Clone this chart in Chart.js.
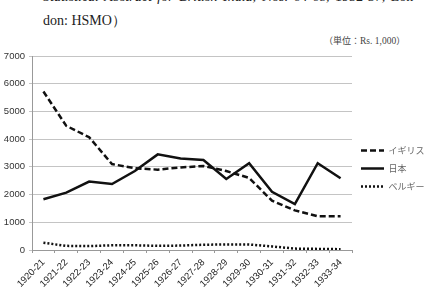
<!DOCTYPE html>
<html>
<head>
<meta charset="utf-8">
<script src="https://cdn.jsdelivr.net/npm/chart.js@4.4.0/dist/chart.umd.min.js"></script>
<style>
  html, body { margin: 0; padding: 0; background: #fff; }
  body { width: 434px; height: 295px; position: relative; overflow: hidden; }
  .src {
    position: absolute; left: 43px; top: -15px; width: 375px;
    font-family: "Liberation Serif", "DejaVu Serif", serif; font-size: 14px;
    line-height: 24px; color: #222; text-align: justify; margin: 0;
  }
  .unit {
    position: absolute; left: 324px; top: 34px;
    font-family: "Noto Sans CJK JP", sans-serif; font-size: 9px; color: #444;
  }
  .unit span { font-family: "Liberation Serif", serif; font-size: 9.5px; }
  #wrap { position: absolute; left: 0; top: 46px; width: 434px; height: 249px; }
</style>
</head>
<body>
<p class="src"><i>Statistical Abstract for British India</i>, Nos. 64-68, 1932-37, Lon-don: HSMO）</p>
<div class="unit">（単位：<span>Rs. 1,000</span>）</div>
<div id="wrap"><canvas id="chart"></canvas></div>
<script>
const years = ['1920-21', '1921-22', '1922-23', '1923-24', '1924-25', '1925-26', '1926-27',
  '1927-28', '1928-29', '1929-30', '1930-31', '1931-32', '1932-33', '1933-34'];
const britain = [5720, 4480, 4070, 3100, 2950, 2900, 2980, 3030, 2850, 2600, 1780, 1430, 1220, 1220];
const japan = [1830, 2070, 2470, 2380, 2850, 3450, 3300, 3250, 2560, 3130, 2100, 1660, 3130, 2590];
const belgium = [260, 150, 140, 170, 170, 150, 160, 190, 200, 200, 130, 50, 40, 30];
const yTicks = [0, 1000, 2000, 3000, 4000, 5000, 6000, 7000];

const tickFont = { family: 'Liberation Sans', size: 9.5 };

function line(label, data, dash) {
  return {
    label: label,
    data: data,
    borderColor: '#111',
    backgroundColor: 'transparent',
    borderWidth: 2.5,
    borderDash: dash,
    pointRadius: 0,
    tension: 0,
    fill: false
  };
}

// legend sits a little above the middle of the canvas in the original
const liftLegend = {
  id: 'liftLegend',
  afterLayout(chart) {
    if (chart.legend) chart.legend.bottom -= 14;
  }
};

new Chart(document.getElementById('chart'), {
  type: 'line',
  data: {
    labels: years,
    datasets: [
      line('イギリス', britain, [6, 3]),
      line('日本', japan, []),
      line('ベルギー', belgium, [2, 2])
    ]
  },
  plugins: [liftLegend],
  options: {
    responsive: true,
    maintainAspectRatio: false,
    animation: false,
    layout: { padding: { top: 10, left: 0, right: 0, bottom: 0 } },
    plugins: {
      legend: {
        position: 'right',
        maxWidth: 82,
        labels: {
          usePointStyle: true,
          pointStyle: 'line',
          pointStyleWidth: 23,
          color: '#666',
          padding: 9,
          font: { family: 'Noto Sans CJK JP', size: 9 },
          generateLabels: chart => Chart.defaults.plugins.legend.labels.generateLabels(chart).map((it, i) => ({
            ...it,
            lineDash: chart.data.datasets[i].borderDash,
            lineWidth: 2.5,
            strokeStyle: '#111'
          }))
        }
      },
      tooltip: { enabled: false }
    },
    scales: {
      x: {
        offset: true,
        grid: { display: true, drawOnChartArea: false, color: '#999', tickLength: 3, offset: true },
        border: { color: '#999' },
        ticks: { color: '#222', font: tickFont, maxRotation: 45, minRotation: 45, padding: 4 },
        afterFit: s => { s.height = 45; }
      },
      y: {
        min: 0,
        max: 7000,
        afterBuildTicks: s => { s.ticks = yTicks.map(v => ({ value: v })); },
        grid: { color: '#c4c4c4', tickLength: 3 },
        border: { color: '#999' },
        ticks: { color: '#333', font: tickFont, padding: 4, callback: v => String(v) },
        afterFit: s => { s.width = 32; }
      }
    }
  }
});
</script>
</body>
</html>
